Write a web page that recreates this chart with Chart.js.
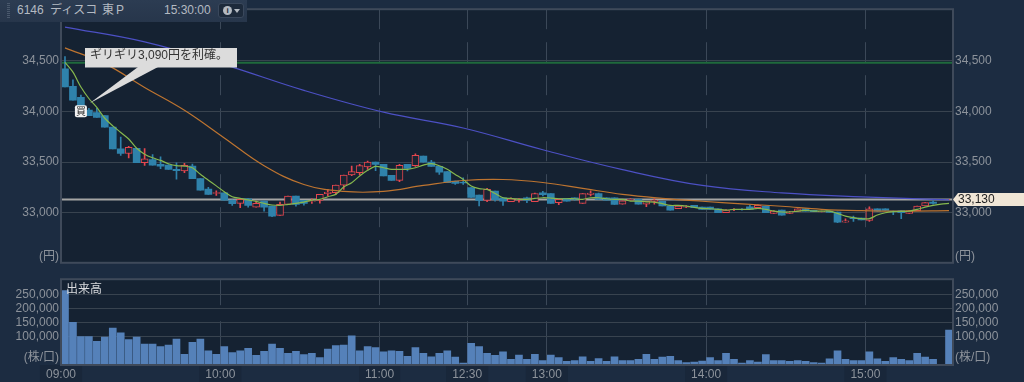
<!DOCTYPE html>
<html>
<head>
<meta charset="utf-8">
<title>6146 ディスコ</title>
<script src="https://cdn.jsdelivr.net/npm/chart.js@4/dist/chart.umd.min.js"></script>
<style>
    html, body { margin: 0; padding: 0; background: #1c2c41; width: 1024px; height: 382px; overflow: hidden; }
    canvas { position: absolute; left: 0; }
    #precio { top: 0; }
    #volumen { top: 270px; }
    #cabecera {
        position: absolute; left: 0; top: 0; width: 247px; height: 22px;
        background: linear-gradient(#2c3c52, #27364b); z-index: 2;
        font: 12px "Liberation Sans", "Noto Sans CJK JP", sans-serif; color: #b4bac2;
    }
    #cabecera span { position: absolute; top: 2px; line-height: 16px; white-space: nowrap; }
    #agarre { position: absolute; left: 7px; top: 3px; width: 3px; height: 16px; background: repeating-linear-gradient(#4a596d 0 1px, transparent 1px 2px); }
    #boton {
        position: absolute; left: 218px; top: 3px; width: 26px; height: 15px; border-radius: 3px;
        background: #1d2a3b; border: 1px solid #3a485c; box-sizing: border-box;
    }
    #boton i { position: absolute; left: 4px; top: 2px; width: 9px; height: 9px; border-radius: 50%; background: #b4bac2; color: #1d2a3b; font: bold 8px/9px "Liberation Sans"; text-align: center; }
    #boton b { position: absolute; left: 15px; top: 5px; width: 0; height: 0; border: 3px solid transparent; border-top: 4px solid #b4bac2; }
</style>
</head>
<body>
<div id="cabecera">
    <div id="agarre"></div>
    <span style="left:17px">6146</span>
    <span style="left:50px">ディスコ</span>
    <span style="left:102px">東</span>
    <span style="left:116px">P</span>
    <span style="left:164px">15:30:00</span>
    <div id="boton"><i>i</i><b></b></div>
</div>
<canvas id="precio" width="1024" height="272"></canvas>
<canvas id="volumen" width="1024" height="112"></canvas>
<script>
const totalBarras = 112;
const etiquetasHora = { 0: '09:00', 20: '10:00', 40: '11:00', 51: '12:30', 61: '13:00', 81: '14:00', 101: '15:00' };
const ticksPrecio = [33000, 33500, 34000, 34500];
const ticksVolumen = [100000, 150000, 200000, 250000];
const precioActual = 33130;
const lineaVerde = 34480;
const textoNota = 'ギリギリ3,090円を利確。';

const aperturas = [34419,34247,34138,34013,33987,33958,33844,33630,33584,33636,33493,33525,33477,33470,33428,33412,33460,33337,33233,33190,
    33197,33125,33092,33138,33056,33115,33066,32974,33082,33165,33122,33112,33122,33188,33197,33273,33372,33395,33451,33500,
    33477,33368,33319,33477,33464,33559,33500,33457,33405,33312,33300,33247,33174,33122,33214,33148,33108,33125,33148,33108,
    33197,33188,33099,33141,33148,33092,33181,33188,33148,33148,33085,33122,33132,33085,33112,33112,33066,33039,33056,33072,
    33056,33056,33039,33000,33030,33033,33059,33049,33066,32993,33026,32993,33013,33039,33023,33007,33016,33007,32908,32947,
    32947,32924,33039,33039,33016,33020,32993,33020,33066,33105,null,33130];
const cierres = [34240,34110,34010,33958,33941,33844,33630,33584,33646,33493,33532,33470,33460,33428,33415,33467,33337,33223,33181,33200,
    33125,33089,33132,33072,33092,33056,32967,33082,33165,33082,33092,33118,33181,33204,33273,33372,33405,33464,33500,33477,
    33362,33319,33467,33438,33566,33500,33457,33401,33296,33290,33293,33150,33122,33230,33130,33115,33138,33135,33125,33190,
    33178,33092,33132,33115,33132,33188,33194,33132,33125,33082,33118,33132,33085,33112,33125,33066,33026,33066,33066,33049,
    33033,33033,33000,33026,33033,33030,33033,33072,33000,33016,32977,33010,33039,33016,33010,33016,33003,32908,32921,32941,
    32928,33039,33016,33023,33010,33000,33020,33066,33099,33092,null,33130];
const maximos = [34540,34312,34160,34030,34029,33958,33844,33746,33656,33636,33633,33574,33552,33475,33493,33487,33480,33337,33250,33215,
    33197,33125,33142,33142,33115,33115,33066,33105,33165,33165,33122,33138,33181,33230,33273,33372,33460,33477,33510,33500,
    33477,33368,33477,33477,33582,33559,33517,33457,33405,33312,33345,33247,33174,33240,33214,33148,33148,33140,33155,33195,
    33210,33188,33132,33141,33148,33188,33215,33195,33148,33148,33118,33140,33135,33112,33138,33112,33066,33066,33070,33072,
    33056,33056,33039,33030,33040,33040,33072,33078,33066,33020,33026,33014,33039,33039,33023,33016,33016,33007,32941,32966,
    32947,33059,33039,33039,33016,33020,33020,33066,33099,33118,null,33130];
const minimos = [34240,34110,34010,33958,33941,33844,33630,33565,33541,33493,33467,33470,33434,33428,33330,33396,33337,33223,33181,33170,
    33125,33072,33051,33056,33056,33016,32960,32974,33082,33065,33075,33092,33095,33165,33181,33230,33365,33372,33428,33415,
    33362,33319,33306,33412,33457,33500,33457,33378,33296,33280,33280,33150,33066,33108,33115,33072,33108,33105,33099,33108,
    33165,33092,33079,33115,33125,33092,33165,33132,33125,33082,33085,33125,33085,33059,33085,33066,33026,33039,33049,33049,
    33033,33033,33000,33000,33020,33025,33033,33049,33000,32993,32977,32993,33013,33016,33010,33007,33003,32901,32908,32914,
    32928,32914,33016,33023,32980,32941,32993,33020,33066,33085,null,33130];

const volumenes = [264000,151000,101000,101000,84000,99000,131000,114000,90000,99000,74000,74000,65000,71000,92000,38000,80000,92000,50000,38000,
    65000,44000,50000,59000,34000,48000,74000,59000,41000,48000,37000,41000,26000,56000,69000,71000,103000,50000,65000,62000,
    47000,50000,48000,31000,62000,41000,29000,41000,50000,28000,7000,77000,65000,41000,34000,47000,20000,35000,20000,38000,
    16000,35000,26000,13000,16000,29000,13000,23000,13000,29000,16000,16000,20000,38000,20000,28000,31000,16000,9000,10000,
    14000,26000,16000,41000,20000,7000,16000,10000,37000,16000,16000,13000,16000,13000,9000,7000,22000,50000,20000,16000,
    16000,47000,22000,13000,26000,20000,16000,41000,28000,20000,null,124000];

const mediaCorta = [34484,34387,34240,34127,34039,33932,33857,33792,33727,33636,33578,33542,33516,33483,33464,33460,33444,33379,33321,33265,
    33207,33158,33142,33126,33112,33092,33076,33072,33082,33092,33105,33125,33132,33158,33181,33253,33296,33362,33418,33457,
    33444,33428,33428,33428,33444,33470,33484,33464,33428,33378,33329,33263,33237,33230,33190,33148,33141,33132,33132,33141,
    33148,33145,33138,33138,33138,33132,33148,33148,33138,33132,33132,33115,33115,33108,33105,33089,33072,33072,33066,33053,
    33043,33039,33033,33026,33033,33033,33033,33043,33033,33016,33007,33007,33016,33023,33016,33016,33016,32993,32967,32951,
    32941,32941,32977,33000,33010,33013,33016,33033,33056,33072,33085,33092];
const mediaMediaX = [0,5,10,15,20,25,30,35,40,45,50,55,60,65,70,75,80,85,90,95,100,105,111];
const mediaMedia = [34627,34471,34236,34011,33738,33464,33279,33210,33210,33269,33318,33328,33298,33240,33181,33142,33113,33088,33064,33034,33020,33015,33020];
const mediaLargaX = [0,10,20,30,40,50,60,70,80,90,100,111];
const mediaLarga = [34832,34686,34461,34207,33992,33836,33621,33425,33269,33196,33157,33127];

const centro = i => i + 0.5;
const fuente = '"Liberation Sans", "Noto Sans CJK JP", sans-serif';
const gris = '#8d939b';
Chart.defaults.font.family = fuente;
Chart.defaults.font.size = 12;
Chart.defaults.color = gris;

// fondo y borde del panel
const panel = {
    id: 'panel',
    beforeDraw(chart) {
        const { ctx, chartArea: a } = chart;
        ctx.fillStyle = '#152232';
        ctx.fillRect(a.left, a.top, a.width, a.height);
    },
    afterDraw(chart) {
        const { ctx, chartArea: a } = chart;
        ctx.strokeStyle = '#3f4a5a';
        ctx.lineWidth = 2;
        ctx.strokeRect(a.left, a.top, a.width, a.height);
    }
};

const notas = {
    id: 'notas',
    afterDraw(chart) {
        const { ctx, scales } = chart;
        const x = scales.x, y = scales.y;
        ctx.save();
        ctx.textBaseline = 'middle';

        // unidades
        ctx.fillStyle = gris;
        ctx.font = '12px ' + fuente;
        ctx.textAlign = 'right';
        ctx.fillText('(円)', 59, 257);
        ctx.textAlign = 'left';
        ctx.fillText('(円)', 955, 257);

        // globo con la nota
        const puntaX = x.getPixelForValue(3.6);
        const puntaY = y.getPixelForValue(34080);
        ctx.fillStyle = '#dcdcdc';
        ctx.fillRect(85, 48, 152, 19.5);
        ctx.beginPath();
        ctx.moveTo(138, 67);
        ctx.lineTo(158, 67);
        ctx.lineTo(puntaX, puntaY);
        ctx.closePath();
        ctx.fill();
        ctx.fillStyle = '#333';
        ctx.fillText(textoNota, 90, 56);

        // marca de compra
        const mx = x.getPixelForValue(centro(2));
        const my = y.getPixelForValue(34000);
        ctx.fillStyle = '#f4f4f4';
        ctx.beginPath();
        ctx.roundRect(mx - 6, my - 6, 12, 12, 2);
        ctx.fill();
        ctx.fillStyle = '#222';
        ctx.font = '10px ' + fuente;
        ctx.textAlign = 'center';
        ctx.fillText('買', mx, my + 0.5);

        // precio actual
        const py = y.getPixelForValue(precioActual);
        ctx.fillStyle = '#f0e6d6';
        ctx.beginPath();
        ctx.moveTo(953, py);
        ctx.lineTo(958, py - 6.5);
        ctx.lineTo(1024, py - 6.5);
        ctx.lineTo(1024, py + 6.5);
        ctx.lineTo(958, py + 6.5);
        ctx.closePath();
        ctx.fill();
        ctx.fillStyle = '#222';
        ctx.font = '12px ' + fuente;
        ctx.textAlign = 'left';
        ctx.fillText('33,130', 958, py + 0.5);
        ctx.restore();
    }
};

const notasVolumen = {
    id: 'notasVolumen',
    afterDraw(chart) {
        const { ctx } = chart;
        ctx.save();
        ctx.textBaseline = 'middle';
        ctx.font = '12px ' + fuente;
        ctx.fillStyle = gris;
        ctx.textAlign = 'right';
        ctx.fillText('(株/口)', 59, 88);
        ctx.textAlign = 'left';
        ctx.fillText('(株/口)', 955, 88);
        ctx.fillStyle = '#d8dadd';
        ctx.fillText('出来高', 66, 20);
        ctx.restore();
    }
};

const ejeX = (conEtiquetas, patron) => ({
    type: 'linear',
    min: 0,
    max: totalBarras,
    offset: false,
    afterBuildTicks(scale) {
        scale.ticks = Object.keys(etiquetasHora).map(k => ({ value: Number(k) }));
    },
    afterFit(scale) {
        scale.height = conEtiquetas ? 17 : 0;
    },
    border: { display: false, dash: patron },
    grid: { color: '#3b4858', lineWidth: 1, drawTicks: false, offset: false },
    ticks: {
        display: conEtiquetas,
        autoSkip: false,
        maxRotation: 0,
        padding: 2,
        showLabelBackdrop: true,
        backdropColor: '#19273a',
        backdropPadding: { x: 6, y: 2 },
        callback: v => etiquetasHora[v]
    }
});

const ejeY = (lado, min, max, valores, dibujarGrid) => ({
    type: 'linear',
    position: lado,
    min,
    max,
    afterBuildTicks(scale) {
        scale.ticks = valores.map(v => ({ value: v }));
    },
    afterFit(scale) {
        scale.width = lado === 'left' ? 61 : 71;
    },
    border: { display: false },
    grid: { display: dibujarGrid, color: '#38434f', lineWidth: 1, drawTicks: false },
    ticks: { autoSkip: false, padding: 2, callback: v => v.toLocaleString('en-US') }
});

const aLinea = (xs, ys) => ys.map((v, i) => ({ x: centro(xs ? xs[i] : i), y: v }));
const minPrecio = 32506, maxPrecio = 35008;

const datosCuerpo = aperturas.map((a, i) => ({ x: centro(i), y: a === null ? null : [a, cierres[i]] }));
const datosMecha = minimos.map((m, i) => ({ x: centro(i), y: m === null ? null : [m, maximos[i]] }));
const esAlza = i => cierres[i] >= aperturas[i];
const azul = '#2f82ab', rojo = '#e5464e';

new Chart(document.getElementById('precio'), {
    type: 'bar',
    data: {
        datasets: [
            { type: 'line', data: [{ x: 0, y: lineaVerde }, { x: totalBarras, y: lineaVerde }], borderColor: '#1f6a3c', borderWidth: 2, pointRadius: 0, order: 9 },
            { type: 'line', data: [{ x: 0, y: precioActual }, { x: totalBarras, y: precioActual }], borderColor: '#a5a5a4', borderWidth: 2, pointRadius: 0, order: 8 },
            {
                data: datosMecha, grouped: false, barThickness: 1, order: 7,
                backgroundColor: ctx => esAlza(ctx.dataIndex) ? rojo : azul
            },
            {
                data: datosCuerpo, grouped: false, barThickness: 7, order: 6, borderSkipped: false,
                borderWidth: ctx => esAlza(ctx.dataIndex) ? 1 : 0,
                borderColor: rojo,
                backgroundColor: ctx => esAlza(ctx.dataIndex) ? '#1a2433' : azul
            },
            { type: 'line', data: aLinea(mediaLargaX, mediaLarga), borderColor: '#4c50c4', borderWidth: 1.2, pointRadius: 0, tension: 0.4, order: 3 },
            { type: 'line', data: aLinea(mediaMediaX, mediaMedia), borderColor: '#bd7430', borderWidth: 1.2, pointRadius: 0, tension: 0.4, order: 2 },
            { type: 'line', data: aLinea(null, mediaCorta), borderColor: '#86b84e', borderWidth: 1.2, pointRadius: 0, tension: 0.3, order: 1 }
        ]
    },
    options: {
        responsive: false,
        animation: false,
        parsing: { xAxisKey: 'x', yAxisKey: 'y' },
        layout: { padding: { top: 8, bottom: 8, left: 0, right: 0 } },
        plugins: { legend: { display: false }, tooltip: { enabled: false } },
        scales: {
            x: ejeX(false, [20, 13]),
            y: ejeY('left', minPrecio, maxPrecio, ticksPrecio, true),
            y2: ejeY('right', minPrecio, maxPrecio, ticksPrecio, false)
        }
    },
    plugins: [panel, notas]
});

new Chart(document.getElementById('volumen'), {
    type: 'bar',
    data: {
        datasets: [{
            data: volumenes.map((v, i) => ({ x: centro(i), y: v })),
            grouped: false,
            barThickness: 7,
            backgroundColor: '#5581b9'
        }]
    },
    options: {
        responsive: false,
        animation: false,
        layout: { padding: { top: 8, bottom: 0, left: 0, right: 0 } },
        plugins: { legend: { display: false }, tooltip: { enabled: false } },
        scales: {
            x: ejeX(true, [26, 16, 45]),
            y: ejeY('left', 0, 304000, ticksVolumen, true),
            y2: ejeY('right', 0, 304000, ticksVolumen, false)
        }
    },
    plugins: [panel, notasVolumen]
});
</script>
</body>
</html>
